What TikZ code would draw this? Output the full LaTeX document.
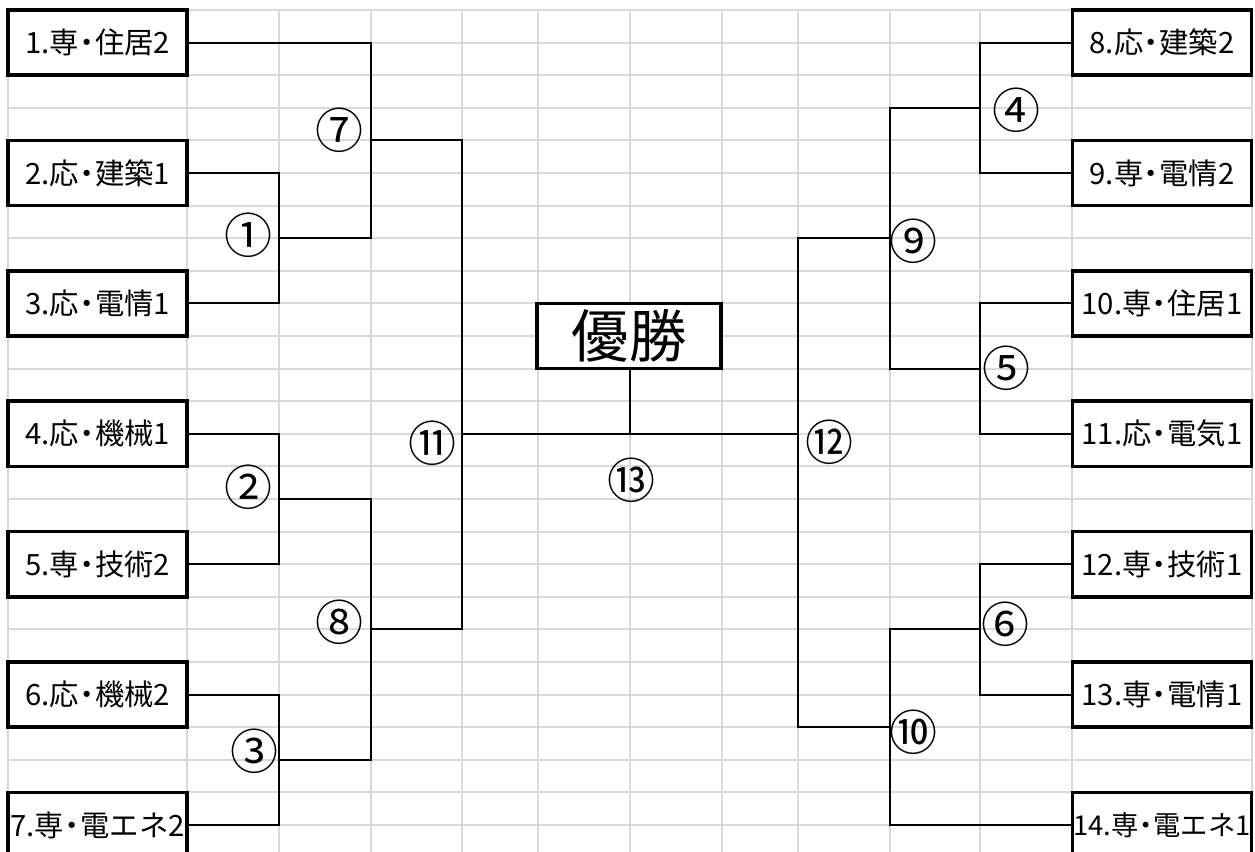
\documentclass[tikz,border=0pt]{standalone}
\usepackage{fontspec}
\setmainfont{Noto Sans CJK JP}
\newcommand{\nd}{\makebox[0.55em][c]{・}}
\begin{document}
\begin{tikzpicture}[x=0.75pt,y=-0.75pt,
  gridline/.style={draw=black!15,line width=1.5pt},
  bline/.style={draw=black,line width=1.6pt,line join=miter},
  team/.style={draw=black,fill=white,line width=2.6pt,minimum width=179*0.75pt,minimum height=65.2*0.75pt,inner sep=0pt,font=\fontsize{22}{26}\selectfont},
  winbox/.style={draw=black,fill=white,line width=2.8pt,minimum width=184*0.75pt,minimum height=65.2*0.75pt,inner sep=0pt,font=\fontsize{43}{48}\selectfont},
  num/.style={inner sep=0pt,font=\fontsize{36}{40}\selectfont}]
\useasboundingbox (0,0) rectangle (1255,852);
\begin{scope}
\clip (0,0) rectangle (1255,852);
% grid
\foreach \k in {0,...,26}{
  \draw[gridline] (8,{10+32.6*\k}) -- (1252,{10+32.6*\k});
}
\foreach \x in {8,187,279,371,462,538,630,722,798,890,980,1072,1252}{
  \draw[gridline] (\x,10) -- (\x,860);
}
% teams left
\node[team] (t1) at (97.5,42.6) {1.専\nd 住居2};
\node[team] (t2) at (97.5,173) {2.応\nd 建築1};
\node[team] (t3) at (97.5,303.4) {3.応\nd 電情1};
\node[team] (t4) at (97.5,433.8) {4.応\nd 機械1};
\node[team] (t5) at (97.5,564.2) {5.専\nd 技術2};
\node[team] (t6) at (97.5,694.6) {6.応\nd 機械2};
\node[team] (t7) at (97.5,825) {7.専\nd 電エネ2};
% teams right
\node[team] (t8) at (1162,42.6) {8.応\nd 建築2};
\node[team] (t9) at (1162,173) {9.専\nd 電情2};
\node[team] (t10) at (1162,303.4) {10.専\nd 住居1};
\node[team] (t11) at (1162,433.8) {11.応\nd 電気1};
\node[team] (t12) at (1162,564.2) {12.専\nd 技術1};
\node[team] (t13) at (1162,694.6) {13.専\nd 電情1};
\node[team,font=\fontsize{20.5}{24}\selectfont] (t14) at (1162,825) {14.専\nd 電エネ1};
% winner box
\node[winbox] (win) at (629,336) {優勝};
% junctions
\coordinate (m1) at (279,238.2);
\coordinate (m2) at (279,499);
\coordinate (m3) at (279,759.8);
\coordinate (m7) at (371,140.4);
\coordinate (m8) at (371,629.4);
\coordinate (m11) at (462,433.8);
\coordinate (m4) at (980,107.8);
\coordinate (m5) at (980,368.6);
\coordinate (m6) at (980,629.4);
\coordinate (m9) at (890,238.2);
\coordinate (m10) at (890,727.2);
\coordinate (m12) at (798,433.8);
\coordinate (m13) at (630,433.8);
% left bracket
\draw[bline] (t2.east) -| (m1) |- (t3.east);
\draw[bline] (t4.east) -| (m2) |- (t5.east);
\draw[bline] (t6.east) -| (m3) |- (t7.east);
\draw[bline] (t1.east) -| (m7) |- (m1);
\draw[bline] (m2) -| (m8) |- (m3);
\draw[bline] (m7) -| (m11) |- (m8);
% right bracket
\draw[bline] (t8.west) -| (m4) |- (t9.west);
\draw[bline] (t10.west) -| (m5) |- (t11.west);
\draw[bline] (t12.west) -| (m6) |- (t13.west);
\draw[bline] (m4) -| (m9) |- (m5);
\draw[bline] (m6) -| (m10) |- (t14.west);
\draw[bline] (m9) -| (m12) |- (m10);
% final
\draw[bline] (m11) -- (m12);
\draw[bline] (win.south -| m13) -- (m13);
% match numbers
\node[num] (l1) at (248,235) {①};
\node[num] (l2) at (248,487) {②};
\node[num] (l3) at (254,751) {③};
\node[num] (l4) at (1016,110) {④};
\node[num] (l5) at (1006,368) {⑤};
\node[num] (l6) at (1005,624) {⑥};
\node[num] (l7) at (339,130) {⑦};
\node[num] (l8) at (339,622) {⑧};
\node[num] (l9) at (913,241) {⑨};
\node[num] (l10) at (913,732) {⑩};
\node[num] (l11) at (432,443) {⑪};
\node[num] (l12) at (829,442) {⑫};
\node[num] (l13) at (631,480) {⑬};
\end{scope}
\end{tikzpicture}
\end{document}
